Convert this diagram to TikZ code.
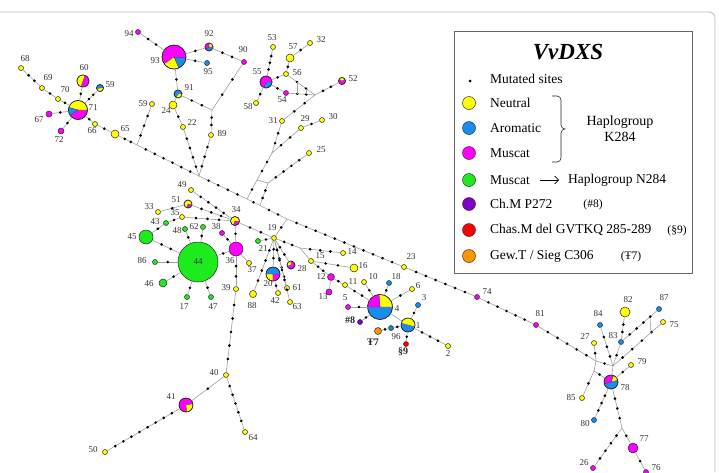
\documentclass[tikz,border=0pt]{standalone}
\usepackage{fontspec}
\setmainfont{Liberation Serif}
\usetikzlibrary{calc,arrows.meta}
\definecolor{cy}{RGB}{255,255,0}
\definecolor{cb}{RGB}{25,140,240}
\definecolor{cm}{RGB}{255,0,255}
\definecolor{cg}{RGB}{30,235,30}
\definecolor{cp}{RGB}{130,0,200}
\definecolor{cr}{RGB}{255,0,0}
\definecolor{co}{RGB}{255,150,0}
\definecolor{ct}{RGB}{0,150,190}
\definecolor{cl}{RGB}{160,160,160}
\tikzset{
 hn/.style={circle,draw=black!85,line width=0.5pt,inner sep=0pt,outer sep=0pt},
 edge/.style={draw=cl,line width=0.6pt},
 lab/.style={font=\fontsize{9}{10}\selectfont,text=black!80,inner sep=0pt},
 blab/.style={font=\bfseries\fontsize{10}{11}\selectfont,text=black!85,inner sep=0pt},
 legt/.style={font=\fontsize{13.5}{15}\selectfont,anchor=west,inner sep=0pt},
 legc/.style={circle,draw=black!80,line width=0.5pt,minimum size=13pt,inner sep=0pt},
}
\newcommand\hn[5]{\node[hn,fill=#5,minimum size=#4pt] (#1) at (#2,-#3) {};}
\newcommand\lb[4]{\node[lab] (#1) at (#2,-#3) {#4};}
\newcommand\pieslice[5]{\filldraw[fill=#5,draw=black!75,line width=0.3pt] (#1.center) -- ++(#3:#2pt) arc[start angle=#3,end angle=#4,radius=#2pt] -- cycle;}
\newcommand\pieline[2]{\draw[black!85,line width=0.5pt] (#1.center) circle[radius=#2pt];}
\newcommand\me[3]{\draw[edge] (#1) -- (#2) coordinate[pos=0] (es) coordinate[pos=1] (ee);
 \ifnum#3>0 \foreach \k in {1,...,#3}{\pgfmathsetmacro\pp{\k/(#3+1)}\fill ($(es)!\pp!(ee)$) circle[radius=1.45pt];}\fi}
\begin{document}
\begin{tikzpicture}[x=1pt,y=1pt]
\useasboundingbox (0,0) rectangle (719,-472);
\fill[white] (0,0) rectangle (719,-472);
\draw[gray!55,line width=0.8pt] (0,-12) -- (709,-12) arc[start angle=90,end angle=0,radius=6pt] -- (715,-472);

% ---------- junctions
\coordinate (jk) at (137,-145);
\coordinate (j22) at (199,-176);
\coordinate (jtop) at (212,-110);
\coordinate (jm1) at (247,-199);
\coordinate (jm2) at (260,-205.5);
\coordinate (jm3) at (287,-219);
\coordinate (ja) at (315,-95);
\coordinate (jd) at (272,-153);
\coordinate (jc) at (257,-180);
\coordinate (je) at (268,-183);
\coordinate (jf) at (300,-248);
\coordinate (j1) at (596,-361);
\coordinate (j2) at (613,-366);
\coordinate (jh) at (594,-371);
\coordinate (j3) at (622,-428);
\coordinate (lk1) at (297,-82);
\coordinate (lk2) at (297,-93.7);
\coordinate (lk3) at (306,-88.5);
\coordinate (lk4) at (306,-94.3);
\coordinate (rk1) at (650,-318);
\coordinate (rk2) at (651,-333);

% ---------- nodes
\hn{n68}{21}{68}{5}{cy}
\hn{n69}{42}{88}{5}{cy}
\hn{n70}{58}{99}{5}{cy}
\hn{n71}{78}{110}{19}{cm}
\hn{n60}{83}{81}{12}{cm}
\hn{n59a}{100}{88}{7}{cy}
\hn{n67}{49}{114}{6}{cm}
\hn{n72}{61}{131}{6}{cm}
\hn{n66}{95}{124}{5}{cy}
\hn{n65}{115}{134}{8}{cy}
\hn{n59b}{152}{104}{5}{cy}
\hn{n94}{138}{32}{5}{cm}
\hn{n93}{174}{57}{24}{cm}
\hn{n92}{209}{47}{8}{cb}
\hn{n95}{207}{63}{5}{cb}
\hn{n91}{178}{94}{8}{cb}
\hn{n24}{173}{105}{8}{cy}
\hn{n22}{183}{127}{5}{cy}
\hn{n89}{211}{135}{5}{cy}
\hn{n90}{244}{62}{5}{cm}
\hn{n53}{273}{47}{5}{cy}
\hn{n57}{290}{58}{8}{cy}
\hn{n32}{310}{43}{5}{cy}
\hn{n56}{286}{74}{5}{cy}
\hn{n55}{266}{82}{12}{cm}
\hn{n54}{286}{93}{5}{cm}
\hn{n58}{256}{103}{5}{cy}
\hn{n52}{342}{81}{7}{cm}
\hn{n31}{282}{121}{5}{cy}
\hn{n29}{301}{128}{5}{cy}
\hn{n30}{322}{120}{5}{cy}
\hn{n25}{309}{153}{5}{cy}
\hn{n49}{191}{190}{5}{cy}
\hn{n51}{188}{204}{8}{cy}
\hn{n33}{158}{212}{5}{cy}
\hn{n35}{182}{217}{5}{cy}
\hn{n43}{166}{223}{5}{cg}
\hn{n45}{146}{237}{14}{cg}
\hn{n48}{185}{229}{5}{cg}
\hn{n62}{203}{227}{5}{cg}
\hn{n38}{222}{233}{5}{cm}
\hn{n34}{235}{221}{9}{cy}
\hn{n44}{198}{262}{40}{cg}
\hn{n36}{236}{249}{14}{cm}
\hn{n37}{249}{263}{5}{cy}
\hn{n86}{155}{262}{5}{cg}
\hn{n46}{163}{283}{8}{cg}
\hn{n17}{187}{297}{5}{cg}
\hn{n47}{211}{297}{5}{cg}
\hn{n39}{236}{289}{5}{cy}
\hn{n19}{274}{238}{5}{cy}
\hn{n21}{258}{241}{5}{cg}
\hn{n20}{273}{274}{14}{cb}
\hn{n88}{253}{294}{7}{cy}
\hn{n42}{278}{293}{5}{cy}
\hn{n61}{287}{288}{5}{cy}
\hn{n63}{290}{302}{5}{cy}
\hn{n28}{291}{265}{8}{cm}
\hn{n15}{311}{261}{5}{cy}
\hn{n14}{343}{253}{5}{cy}
\hn{n16}{354}{268}{8}{cy}
\hn{n12}{331}{277}{7}{cm}
\hn{n13}{329}{292}{6}{cm}
\hn{n11}{345}{285}{5}{cy}
\hn{n10}{364}{282}{5}{cy}
\hn{n18}{389}{283}{5}{cb}
\hn{n6}{412}{289}{5}{cy}
\hn{n4}{380}{307}{25}{cb}
\hn{n3}{418}{305}{5}{cb}
\hn{n5}{348}{307}{5}{cm}
\hn{n8}{360}{322}{5}{cp}
\hn{n1}{408}{325}{14}{cb}
\hn{n96}{391}{328}{5}{ct}
\hn{n7}{378}{331}{7}{co}
\hn{n9}{406}{344}{5}{cr}
\hn{n2}{448}{346}{5}{cy}
\hn{n23}{404}{267}{5}{cy}
\hn{n74}{477}{297}{5}{cm}
\hn{n81}{536}{325}{5}{cm}
\hn{n40}{226}{375}{5}{cy}
\hn{n41}{186}{405}{14}{cm}
\hn{n50}{105}{452}{5}{cy}
\hn{n64}{245}{432}{5}{cy}
\hn{n82}{625}{312}{10}{cy}
\hn{n87}{659}{309}{5}{cb}
\hn{n84}{600}{325}{5}{cb}
\hn{n83}{621}{342}{5}{cb}
\hn{n75}{663}{322}{5}{cy}
\hn{n27}{594}{343}{5}{cy}
\hn{n79}{631}{365}{5}{cy}
\hn{n78}{611}{382}{14}{cb}
\hn{n85}{582}{398}{5}{cy}
\hn{n80}{594}{420}{5}{cb}
\hn{n77}{633}{448}{10}{cm}
\hn{n26}{593}{468}{5}{cm}
\hn{n76}{646}{472}{5}{cm}

% ---------- pies
\pieslice{n71}{9.5}{0}{165}{cy}\pieslice{n71}{9.5}{165}{215}{cb}\pieline{n71}{9.5}
\pieslice{n60}{6}{70}{250}{cy}\pieline{n60}{6}
\pieslice{n59a}{3.5}{10}{190}{cb}\pieline{n59a}{3.5}
\pieslice{n93}{12}{215}{295}{cy}\pieslice{n93}{12}{295}{355}{cb}\pieline{n93}{12}
\pieslice{n92}{4}{0}{90}{cy}\pieslice{n92}{4}{90}{220}{cm}\pieline{n92}{4}
\pieslice{n91}{4}{240}{370}{cy}\pieline{n91}{4}
\pieslice{n55}{6}{250}{360}{cb}\pieline{n55}{6}
\pieslice{n52}{3.5}{30}{150}{cy}\pieline{n52}{3.5}
\pieslice{n51}{4}{250}{345}{cm}\pieline{n51}{4}
\pieslice{n34}{4.5}{250}{350}{cm}\pieline{n34}{4.5}
\pieslice{n20}{7}{180}{270}{cy}\pieslice{n20}{7}{270}{360}{cm}\pieline{n20}{7}
\pieslice{n28}{4}{90}{200}{cy}\pieline{n28}{4}
\pieslice{n4}{12.5}{0}{95}{cy}\pieslice{n4}{12.5}{95}{180}{cm}\pieline{n4}{12.5}
\pieslice{n1}{7}{-15}{165}{cy}\pieline{n1}{7}
\pieslice{n41}{7}{275}{370}{cy}\pieline{n41}{7}
\pieslice{n78}{7}{15}{70}{cy}\pieslice{n78}{7}{70}{195}{cm}\pieline{n78}{7}

% ---------- edges
\me{n68}{n69}{2}
\me{n69}{n70}{1}
\me{n70}{n71}{1}
\me{n60}{n71}{1}
\me{n59a}{n71}{2}
\me{n67}{n71}{1}
\me{n72}{n71}{1}
\me{n71}{n66}{1}
\me{n66}{n65}{1}
\me{n65}{jk}{2}
\me{n59b}{jk}{3}
\me{jk}{j22}{6}
\me{n94}{n93}{2}
\me{n93}{n92}{1}
\me{n93}{n95}{1}
\me{n93}{n91}{1}
\me{n92}{n90}{2}
\me{n90}{jtop}{2}
\me{n91}{jtop}{2}
\me{jtop}{n89}{2}
\me{n89}{j22}{3}
\me{n91}{n24}{0}
\me{n24}{n22}{1}
\me{n22}{j22}{4}
\me{j22}{jm1}{4}
\me{jm1}{jm2}{1}
\me{jm2}{jm3}{2}
\me{jm3}{n23}{11}
\me{n23}{n74}{6}
\me{n74}{n81}{5}
\me{n81}{j1}{5}
\me{j1}{j2}{1}
\me{j2}{n78}{0}
\me{n53}{n55}{3}
\me{n57}{n32}{1}
\me{n57}{n56}{1}
\me{n55}{n56}{1}
\me{n55}{n54}{1}
\me{n55}{n58}{1}
\me{n56}{ja}{2}
\me{n54}{ja}{2}
\draw[edge] (lk1) -- (lk2);
\draw[edge] (lk3) -- (lk4);
\me{n52}{ja}{2}
\me{ja}{n31}{2}
\me{n31}{jd}{2}
\me{n30}{n29}{1}
\me{n29}{jd}{2}
\me{jd}{jc}{2}
\me{jc}{jm1}{1}
\me{n25}{je}{4}
\me{je}{jm2}{2}
\me{jc}{je}{0}
\me{n49}{n34}{4}
\me{n51}{n34}{3}
\me{n33}{n51}{1}
\me{n35}{n34}{3}
\me{n35}{n43}{1}
\me{n43}{n45}{1}
\me{n45}{n44}{2}
\me{n86}{n44}{1}
\me{n46}{n44}{1}
\me{n17}{n44}{1}
\me{n47}{n44}{1}
\me{n48}{n44}{1}
\me{n62}{n44}{1}
\me{n44}{n36}{1}
\me{n38}{n36}{1}
\me{n34}{n36}{1}
\me{n36}{n37}{0}
\me{n36}{n39}{2}
\me{n39}{n40}{5}
\me{n40}{n41}{1}
\me{n41}{n50}{8}
\me{n40}{n64}{5}
\me{n34}{n19}{2}
\me{n19}{jm3}{1}
\me{n19}{n21}{1}
\me{n19}{n88}{4}
\me{n19}{n20}{2}
\me{n20}{n42}{1}
\me{n19}{n61}{4}
\me{n19}{n63}{5}
\me{n19}{n28}{2}
\me{n19}{jf}{2}
\me{jf}{n14}{3}
\me{jf}{n15}{0}
\me{n15}{n16}{2}
\me{n15}{n12}{2}
\me{n12}{n13}{0}
\me{n12}{n11}{1}
\me{n11}{n4}{2}
\me{n10}{n4}{1}
\me{n18}{n4}{1}
\me{n6}{n4}{1}
\me{n5}{n4}{1}
\me{n8}{n4}{1}
\me{n4}{n1}{0}
\me{n1}{n3}{1}
\me{n1}{n2}{3}
\me{n1}{n96}{1}
\me{n96}{n7}{1}
\me{n1}{n9}{1}
\me{n27}{j1}{1}
\me{j1}{jh}{0}
\me{jh}{n78}{1}
\me{jh}{n85}{1}
\me{n84}{j2}{3}
\me{n83}{j2}{1}
\me{n82}{n83}{2}
\me{n87}{n83}{4}
\me{n75}{j2}{4}
\draw[edge] (rk1) -- (rk2);
\me{n79}{n78}{1}
\me{n78}{n80}{3}
\me{n78}{j3}{3}
\me{j3}{n77}{1}
\me{j3}{n26}{4}
\me{n77}{n76}{1}

% ---------- labels
\lb{l68}{25}{59}{68}
\lb{l69}{48}{78}{69}
\lb{l70}{65}{90}{70}
\lb{l71}{93}{108}{71}
\lb{l60}{84}{68}{60}
\lb{l59a}{110}{85}{59}
\lb{l67}{39}{120}{67}
\lb{l72}{59}{140}{72}
\lb{l66}{92}{131}{66}
\lb{l65}{125}{129}{65}
\lb{l59b}{143}{104}{59}
\lb{l94}{129}{34}{94}
\lb{l93}{155}{61}{93}
\lb{l92}{209}{34}{92}
\lb{l95}{208}{72}{95}
\lb{l91}{189}{88}{91}
\lb{l24}{166}{111}{24}
\lb{l22}{192}{123}{22}
\lb{l89}{222}{134}{89}
\lb{l90}{243}{50}{90}
\lb{l53}{272}{38}{53}
\lb{l57}{293}{47}{57}
\lb{l32}{321}{40}{32}
\lb{l56}{297}{73}{56}
\lb{l55}{257}{72}{55}
\lb{l54}{282}{100}{54}
\lb{l58}{248}{107}{58}
\lb{l52}{353}{79}{52}
\lb{l31}{273}{121}{31}
\lb{l29}{305}{119}{29}
\lb{l30}{333}{117}{30}
\lb{l25}{321}{150}{25}
\lb{l49}{182}{185}{49}
\lb{l51}{176}{200}{51}
\lb{l33}{149}{207}{33}
\lb{l35}{175}{213}{35}
\lb{l43}{155}{222}{43}
\lb{l45}{132}{237}{45}
\lb{l48}{177}{231}{48}
\lb{l62}{194}{227}{62}
\lb{l38}{216}{227}{38}
\lb{l34}{236}{210}{34}
\lb{l44}{198}{262}{44}
\lb{l36}{230}{261}{36}
\lb{l37}{252}{270}{37}
\lb{l86}{142}{261}{86}
\lb{l46}{149}{284}{46}
\lb{l17}{184}{307}{17}
\lb{l47}{213}{307}{47}
\lb{l39}{226}{288}{39}
\lb{l19}{272}{228}{19}
\lb{l21}{263}{249}{21}
\lb{l20}{268}{284}{20}
\lb{l88}{252}{306}{88}
\lb{l42}{275}{301}{42}
\lb{l61}{297}{288}{61}
\lb{l63}{297}{307}{63}
\lb{l28}{302}{269}{28}
\lb{l15}{320}{256}{15}
\lb{l14}{352}{252}{14}
\lb{l16}{363}{266}{16}
\lb{l12}{321}{277}{12}
\lb{l13}{323}{297}{13}
\lb{l11}{353}{282}{11}
\lb{l10}{373}{277}{10}
\lb{l18}{396}{277}{18}
\lb{l6}{418}{286}{6}
\lb{l4}{397}{309}{4}
\lb{l3}{424}{298}{3}
\lb{l5}{345}{298}{5}
\lb{l1}{418}{326}{1}
\lb{l96}{396}{337}{96}
\lb{l2}{448}{354}{2}
\lb{l23}{411}{257}{23}
\lb{l74}{487}{292}{74}
\lb{l81}{540}{314}{81}
\lb{l40}{214}{373}{40}
\lb{l41}{171}{397}{41}
\lb{l50}{93}{450}{50}
\lb{l64}{253}{438}{64}
\lb{l82}{628}{300}{82}
\lb{l87}{664}{298}{87}
\lb{l84}{598}{314}{84}
\lb{l83}{613}{336}{83}
\lb{l75}{674}{325}{75}
\lb{l27}{585}{337}{27}
\lb{l79}{642}{362}{79}
\lb{l78}{625}{388}{78}
\lb{l85}{571}{398}{85}
\lb{l80}{585}{424}{80}
\lb{l77}{644}{439}{77}
\lb{l26}{584}{463}{26}
\lb{l76}{656}{468}{76}
\node[blab] (l8) at (350,-320) {\#8};
\node[blab] (l7) at (373,-342) {Ŧ7};
\node[blab] (l9) at (403,-352) {§9};

% ---------- legend
\draw[gray!80!black,line width=0.8pt] (454,-31) rectangle (692,-273);
\node[font=\bfseries\itshape\fontsize{23}{26}\selectfont,inner sep=0pt] (ttl) at (568,-52) {VvDXS};
\node[circle,fill=black,inner sep=0pt,minimum size=3pt] (ld0) at (470,-81) {};
\node[legt] (lt0) at (490,-79) {Mutated sites};
\node[legc,fill=cy] (lc1) at (469,-103) {};
\node[legt] (lt1) at (490,-103) {Neutral};
\node[legc,fill=cb] (lc2) at (469,-128) {};
\node[legt] (lt2) at (490,-128) {Aromatic};
\node[legc,fill=cm] (lc3) at (469,-153) {};
\node[legt] (lt3) at (490,-153) {Muscat};
\node[legc,fill=cg] (lc4) at (469,-180) {};
\node[legt] (lt4) at (490,-180) {Muscat};
\node[legt] (lt4b) at (568,-180) {Haplogroup N284};
\node[legc,fill=cp] (lc5) at (469,-204) {};
\node[legt] (lt5) at (490,-204) {Ch.M P272};
\node[legc,fill=cr] (lc6) at (469,-230) {};
\node[legt] (lt6) at (490,-230) {Chas.M del GVTKQ 285-289};
\node[legc,fill=co] (lc7) at (469,-256) {};
\node[legt] (lt7) at (490,-256) {Gew.T / Sieg C306};
\node[font=\fontsize{11.5}{13}\selectfont,inner sep=0pt] (lp8) at (593,-205) {(\#8)};
\node[font=\fontsize{11.5}{13}\selectfont,inner sep=0pt] (lp9) at (677,-231) {(§9)};
\node[font=\fontsize{11.5}{13}\selectfont,inner sep=0pt] (lp7) at (631,-257) {(Ŧ7)};
\draw[-{Straight Barb[length=4pt,width=8pt]},line width=0.6pt,shorten <=10pt,shorten >=9pt] (lt4.east) -- (lt4b.west);
\draw[black!85,line width=0.6pt] (552,-96) -- (557,-96) to[out=0,in=90] (561,-100) -- (561,-125) to[out=-90,in=180] (565,-129) to[out=180,in=90] (561,-133) -- (561,-158) to[out=-90,in=0] (557,-162) -- (552,-162);
\node[font=\fontsize{14}{16}\selectfont,inner sep=0pt] (hk1) at (620,-122) {Haplogroup};
\node[font=\fontsize{14}{16}\selectfont,inner sep=0pt] (hk2) at (620,-137) {K284};
\end{tikzpicture}
\end{document}
